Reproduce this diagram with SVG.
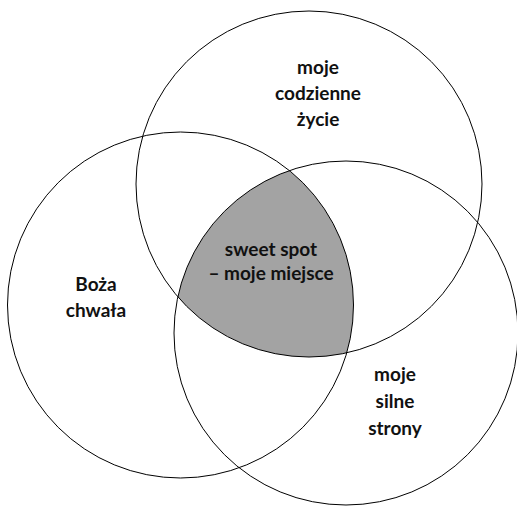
<svg xmlns="http://www.w3.org/2000/svg" width="517" height="506" viewBox="0 0 517 506">
<style>
.c{fill:none;stroke:#000;stroke-width:1}
.t{font-family:Lato,"Open Sans",sans-serif;font-weight:bold;font-size:19px;fill:#111;text-anchor:middle}
</style>
<defs>
<clipPath id="cL"><circle cx="180.5" cy="305" r="173"/></clipPath>
<clipPath id="cR"><circle cx="346" cy="333" r="172"/></clipPath>
</defs>
<rect width="517" height="506" fill="#fff"/>
<g id="sweet-spot-fill" clip-path="url(#cL)"><g clip-path="url(#cR)"><circle cx="309" cy="184" r="173" fill="#a3a3a3"/></g></g>
<g id="top"><circle class="c" cx="309" cy="184" r="173"/>
<text class="t" x="318" y="74">moje</text><text class="t" x="318" y="100">codzienne</text><text class="t" x="318" y="126">życie</text></g>
<g id="left"><circle class="c" cx="180.5" cy="305" r="173"/>
<text class="t" x="96" y="291">Boża</text><text class="t" x="96" y="317">chwała</text></g>
<g id="right"><circle class="c" cx="346" cy="333" r="172"/>
<text class="t" x="395" y="381">moje</text><text class="t" x="395" y="408">silne</text><text class="t" x="395" y="435">strony</text></g>
<g id="sweet-spot"><text class="t" x="271" y="256">sweet spot</text><text class="t" x="271" y="280">– moje miejsce</text></g>
</svg>
